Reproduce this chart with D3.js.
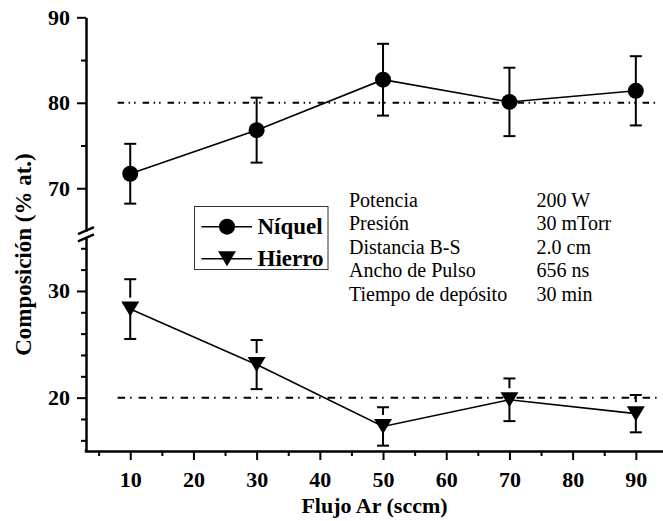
<!DOCTYPE html>
<html>
<head>
<meta charset="utf-8">
<script src="https://cdn.jsdelivr.net/npm/d3@7"></script>
<style>
  html, body { margin: 0; padding: 0; background: #fff; }
  svg { display: block; }
</style>
</head>
<body>
<svg id="chart" width="663" height="521"></svg>
<script>
// Ar flow (sccm) and film composition (% at.)
const flujo = [10, 30, 50, 70, 90];
const niquel = [71.7, 76.8, 82.7, 80.1, 81.4];
const niquelErr = [3.5, 3.8, 4.2, 4.0, 4.05];
const hierro = [28.3, 23.1, 17.3, 19.8, 18.5];
const hierroErr = [2.8, 2.3, 1.8, 2.0, 1.75];

// Target composition lines
const refNiquel = 80;
const refHierro = 20;

// Axis ticks
const xTicks = [10, 20, 30, 40, 50, 60, 70, 80, 90];
const xMinor = [5, 15, 25, 35, 45, 55, 65, 75, 85];
const yTicksUpper = [70, 80, 90];
const yMinorUpper = [75, 85];
const yTicksLower = [20, 30];
const yMinorLower = [16, 18, 22, 24, 26, 28, 32, 34];

// Deposition conditions
const condLabels = ["Potencia", "Presión", "Distancia B-S", "Ancho de Pulso", "Tiempo de depósito"];
const condValues = ["200 W", "30 mTorr", "2.0 cm", "656 ns", "30 min"];

const seriesNames = ["Níquel", "Hierro"];

const FONT = "'Times New Roman', Times, 'Liberation Serif', Tinos, 'Noto Serif', 'DejaVu Serif', FreeSerif, serif";
const svg = d3.select("#chart").style("font-family", FONT);

// Scales: one x scale, a broken y axis made of two linear pieces
const x = d3.scaleLinear().domain([3, 94.3]).range([86, 663]);
const yTop = d3.scaleLinear().domain([65, 90]).range([231, 17.3]);
const yBot = d3.scaleLinear().domain([15, 35]).range([451, 237.6]);
const axisX0 = 86, axisY0 = 451;

function styleAxis(g, fontSize) {
  g.attr("font-family", null);
  g.select(".domain").attr("stroke", "#000").attr("stroke-width", 2.5).attr("stroke-linecap", "square");
  g.selectAll(".tick line").attr("stroke", "#000").attr("stroke-width", 2);
  g.selectAll(".tick text")
    .attr("fill", "#000")
    .style("font-family", FONT)
    .style("font-weight", "bold")
    .style("font-size", fontSize + "px");
}

// X axis
const gx = svg.append("g").attr("transform", `translate(0,${axisY0})`)
  .call(d3.axisBottom(x).tickValues(xTicks).tickSize(9).tickSizeOuter(0).tickPadding(11).tickFormat(d3.format("d")));
styleAxis(gx, 22);
svg.append("g").attr("transform", `translate(0,${axisY0})`)
  .call(d3.axisBottom(x).tickValues(xMinor).tickSize(5).tickSizeOuter(0).tickFormat(""))
  .call(g => { styleAxis(g, 22); g.select(".domain").remove(); });

// Y axis, upper piece (Ni)
const gyT = svg.append("g").attr("transform", `translate(${axisX0},0)`)
  .call(d3.axisLeft(yTop).tickValues(yTicksUpper).tickSize(9).tickSizeOuter(0).tickPadding(7).tickFormat(d3.format("d")));
styleAxis(gyT, 22);
gyT.select(".domain").attr("stroke-linecap", "butt");
svg.append("g").attr("transform", `translate(${axisX0},0)`)
  .call(d3.axisLeft(yTop).tickValues(yMinorUpper).tickSize(5).tickSizeOuter(0).tickFormat(""))
  .call(g => { styleAxis(g, 22); g.select(".domain").remove(); });

// Y axis, lower piece (Fe)
const gyB = svg.append("g").attr("transform", `translate(${axisX0},0)`)
  .call(d3.axisLeft(yBot).tickValues(yTicksLower).tickSize(9).tickSizeOuter(0).tickPadding(7).tickFormat(d3.format("d")));
styleAxis(gyB, 22);
gyB.select(".domain").attr("stroke-linecap", "butt");
svg.append("g").attr("transform", `translate(${axisX0},0)`)
  .call(d3.axisLeft(yBot).tickValues(yMinorLower).tickSize(5).tickSizeOuter(0).tickFormat(""))
  .call(g => { styleAxis(g, 22); g.select(".domain").remove(); });

// Close the corner between the two axes
svg.append("rect").attr("x", axisX0 - 1.25).attr("y", axisY0 - 1.25).attr("width", 2.5).attr("height", 2.5).attr("fill", "#000");

// Axis break marks
const breakMid = (yTop.range()[0] + yBot.range()[1]) / 2;
[-3.6, 3.6].forEach(off => {
  svg.append("line")
    .attr("x1", axisX0 - 8).attr("y1", breakMid + off + 3.5)
    .attr("x2", axisX0 + 8).attr("y2", breakMid + off - 3.5)
    .attr("stroke", "#000").attr("stroke-width", 2.5);
});

// Reference composition lines
const refExtent = [8, 93.3];
svg.append("line")
  .attr("x1", x(refExtent[0])).attr("x2", x(refExtent[1]))
  .attr("y1", yTop(refNiquel)).attr("y2", yTop(refNiquel))
  .attr("stroke", "#000").attr("stroke-width", 2)
  .attr("stroke-dasharray", "6.5,4.5,1.5,4,1.5,7");
svg.append("line")
  .attr("x1", x(refExtent[0])).attr("x2", x(refExtent[1]))
  .attr("y1", yBot(refHierro)).attr("y2", yBot(refHierro))
  .attr("stroke", "#000").attr("stroke-width", 2)
  .attr("stroke-dasharray", "7.5,5,1.5,7");

// Marker shapes
const triPath = "M-9,-7.5L9,-7.5L0,7.5Z";
const circleR = 8;

function drawSeries(values, errs, yScale, kind) {
  const g = svg.append("g");
  const pts = flujo.map((f, i) => ({ x: x(f), y: yScale(values[i]), hi: yScale(values[i] + errs[i]), lo: yScale(values[i] - errs[i]) }));
  // connecting line
  g.append("path")
    .attr("d", d3.line().x(d => d.x).y(d => d.y)(pts))
    .attr("fill", "none").attr("stroke", "#000").attr("stroke-width", 1.6);
  // error bars
  pts.forEach(p => {
    const topEnd = kind === "tri" ? p.y - 11.5 : p.y;
    g.append("line").attr("x1", p.x).attr("x2", p.x).attr("y1", p.hi).attr("y2", topEnd)
      .attr("stroke", "#000").attr("stroke-width", 2);
    g.append("line").attr("x1", p.x).attr("x2", p.x).attr("y1", p.y).attr("y2", p.lo)
      .attr("stroke", "#000").attr("stroke-width", 2);
    [p.hi, p.lo].forEach(yy => {
      g.append("line").attr("x1", p.x - 6).attr("x2", p.x + 6).attr("y1", yy).attr("y2", yy)
        .attr("stroke", "#000").attr("stroke-width", 2);
    });
  });
  // markers
  pts.forEach(p => {
    if (kind === "circle") {
      g.append("circle").attr("cx", p.x).attr("cy", p.y).attr("r", circleR).attr("fill", "#000");
    } else {
      g.append("path").attr("d", triPath).attr("transform", `translate(${p.x},${p.y})`).attr("fill", "#000");
    }
  });
}

drawSeries(niquel, niquelErr, yTop, "circle");
drawSeries(hierro, hierroErr, yBot, "tri");

// Legend
const leg = svg.append("g");
leg.append("rect").attr("x", 194.5).attr("y", 206.5).attr("width", 133.5).attr("height", 63)
  .attr("fill", "#fff").attr("stroke", "#333").attr("stroke-width", 1);
const legRows = [226.7, 258.7];
seriesNames.forEach((name, i) => {
  const yy = legRows[i];
  leg.append("line").attr("x1", 201.5).attr("x2", 252).attr("y1", yy).attr("y2", yy)
    .attr("stroke", "#000").attr("stroke-width", 1.6);
  if (i === 0) {
    leg.append("circle").attr("cx", 227).attr("cy", yy).attr("r", circleR).attr("fill", "#000");
  } else {
    leg.append("path").attr("d", triPath).attr("transform", `translate(227,${yy})`).attr("fill", "#000");
  }
  leg.append("text").attr("x", 257.5).attr("y", yy + 7.6).text(name)
    .style("font-weight", "bold").style("font-size", "23px").attr("fill", "#000");
});

// Deposition conditions table
const cond = svg.append("g").style("font-size", "20px").attr("fill", "#000");
condLabels.forEach((lab, i) => {
  const yy = 206.7 + i * 23.5;
  cond.append("text").attr("x", 349).attr("y", yy).text(lab);
  cond.append("text").attr("x", 536.5).attr("y", yy).text(condValues[i]);
});

// Axis titles
svg.append("text")
  .attr("x", (axisX0 + 663) / 2).attr("y", 513)
  .attr("text-anchor", "middle")
  .style("font-weight", "bold").style("font-size", "22px")
  .text("Flujo Ar (sccm)");
svg.append("text")
  .attr("transform", "translate(31,254.5) rotate(-90)")
  .attr("text-anchor", "middle")
  .style("font-weight", "bold").style("font-size", "23px")
  .text("Composición (% at.)");
</script>
</body>
</html>
